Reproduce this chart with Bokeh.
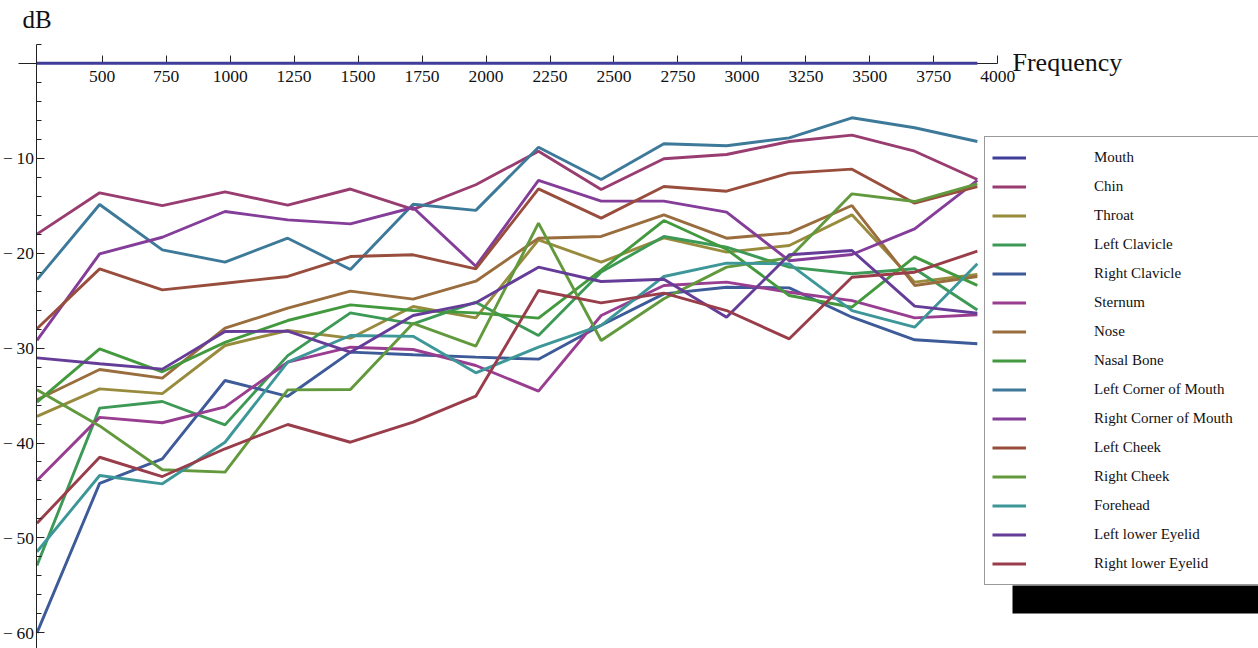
from bokeh.plotting import figure
from bokeh.models import (Range1d, LinearAxis, FixedTicker, Legend, LegendItem,
                          Label, BoxAnnotation)
from bokeh.embed import file_html
from bokeh.resources import INLINE

# ---------------- data ----------------
freqs = [245, 490, 735, 980, 1225, 1470, 1715, 1960, 2205, 2450, 2695, 2940,
         3185, 3430, 3675, 3920]

mouth = [0, 0, 0, 0, 0, 0, 0, 0, 0, 0, 0, 0, 0, 0, 0, 0]
chin = [-18.0, -13.65, -15.0, -13.55, -14.95, -13.25, -15.4, -12.8, -9.27,
        -13.3, -10.07, -9.62, -8.25, -7.58, -9.27, -12.25]
throat = [-37.2, -34.3, -34.8, -29.73, -28.15, -28.96, -25.62, -26.82, -18.6,
          -20.96, -18.4, -19.9, -19.2, -15.97, -23.06, -22.25]
left_clavicle = [-52.9, -36.33, -35.63, -38.09, -30.8, -26.3, -27.45, -25.17,
                 -28.68, -22.0, -18.25, -19.38, -21.48, -22.18, -21.65, -26.0]
right_clavicle = [-60.0, -44.25, -41.67, -33.42, -35.08, -30.43, -30.7, -30.96,
                  -31.17, -27.6, -24.29, -23.59, -23.66, -26.75, -29.13, -29.55]
sternum = [-43.95, -37.3, -37.87, -36.2, -31.49, -29.91, -30.15, -31.84,
           -34.54, -26.57, -23.41, -23.06, -24.12, -25.0, -26.82, -26.5]
nose = [-35.45, -32.26, -33.17, -27.91, -25.8, -24.01, -24.85, -22.96, -18.43,
        -18.25, -15.97, -18.43, -17.87, -14.99, -23.41, -22.46]
nasal_bone = [-35.7, -30.08, -32.5, -29.4, -27.1, -25.45, -26.05, -26.3,
              -26.85, -21.8, -16.57, -19.6, -24.47, -25.7, -20.4, -23.4]
left_corner_mouth = [-22.8, -14.88, -19.66, -20.95, -18.43, -21.73, -14.85,
                     -15.5, -8.85, -12.25, -8.49, -8.7, -7.86, -5.75, -6.8, -8.25]
right_corner_mouth = [-29.2, -20.08, -18.33, -15.62, -16.5, -16.92, -15.2,
                      -21.38, -12.35, -14.53, -14.53, -15.69, -20.8, -20.15,
                      -17.44, -12.35]
left_cheek = [-27.97, -21.66, -23.87, -23.17, -22.46, -20.36, -20.18, -21.66,
              -13.23, -16.32, -12.99, -13.48, -11.58, -11.16, -14.74, -12.99]
right_cheek = [-34.4, -38.2, -42.82, -43.07, -34.4, -34.37, -27.4, -29.8,
               -16.85, -29.2, -24.8, -21.48, -20.5, -13.76, -14.57, -12.7]
forehead = [-51.45, -43.42, -44.3, -39.92, -31.49, -28.68, -28.77, -32.61,
            -29.91, -27.62, -22.46, -21.06, -21.13, -26.05, -27.8, -21.13]
left_lower_eyelid = [-31.03, -31.66, -32.22, -28.26, -28.22, -30.43, -26.57,
                     -25.24, -21.48, -22.99, -22.75, -26.75, -20.18, -19.73,
                     -25.59, -26.33]
right_lower_eyelid = [-48.45, -41.5, -43.53, -40.61, -38.05, -39.92, -37.8,
                      -35.07, -23.94, -25.24, -24.22, -26.05, -29.03, -22.54,
                      -22.01, -19.8]

names = ["Mouth", "Chin", "Throat", "Left Clavicle", "Right Clavicle", "Sternum",
         "Nose", "Nasal Bone", "Left Corner of Mouth", "Right Corner of Mouth",
         "Left Cheek", "Right Cheek", "Forehead", "Left lower Eyelid",
         "Right lower Eyelid"]
series = [mouth, chin, throat, left_clavicle, right_clavicle, sternum, nose,
          nasal_bone, left_corner_mouth, right_corner_mouth, left_cheek,
          right_cheek, forehead, left_lower_eyelid, right_lower_eyelid]
colors = ["#3f3d99", "#993d71", "#998b3d", "#3d9956", "#3d5a99", "#993d90",
          "#996d3d", "#43993d", "#3d7999", "#843d99", "#994e3d", "#62993d",
          "#3d9799", "#653d99", "#993d4b"]

x_ticks = [500, 750, 1000, 1250, 1500, 1750, 2000, 2250, 2500, 2750, 3000,
           3250, 3500, 3750, 4000]
y_ticks = [-60, -50, -40, -30, -20, -10]
y_minor = list(range(-60, 3, 2))

# ---------------- layout helpers (reference pixel -> data) ----------------
W, H = 1258, 648


def fx(px):
    return 500 + (px - 101.7) / 0.25589


def fy(py):
    return (62.7 - py) / 9.495


p = figure(width=W, height=H,
           x_range=Range1d(fx(0), fx(W)),
           y_range=Range1d(fy(H), fy(0)),
           x_axis_type=None, y_axis_type=None,
           toolbar_location=None, output_backend="svg", min_border=0)
p.outline_line_color = None
p.background_fill_color = "white"
p.border_fill_color = "white"

SERIF = "Liberation Serif"

xaxis = LinearAxis(fixed_location=0, bounds=(fx(18), 4000),
                   ticker=FixedTicker(ticks=x_ticks, minor_ticks=[]))
xaxis.axis_line_color = "#222222"
xaxis.axis_line_width = 1
xaxis.major_tick_in = 8
xaxis.major_tick_out = 0
xaxis.major_tick_line_color = "#222222"
xaxis.minor_tick_line_color = None
xaxis.major_label_standoff = 8
xaxis.major_label_text_font = SERIF
xaxis.major_label_text_font_size = "17.5px"
xaxis.major_label_text_color = "#111111"
p.add_layout(xaxis, "below")

yaxis = LinearAxis(fixed_location=freqs[0], bounds=(fy(660), 2),
                   ticker=FixedTicker(ticks=y_ticks, minor_ticks=y_minor))
yaxis.axis_line_color = "#222222"
yaxis.axis_line_width = 1
yaxis.major_tick_in = 8
yaxis.major_tick_out = 0
yaxis.minor_tick_in = 5
yaxis.minor_tick_out = 0
yaxis.major_tick_line_color = "#222222"
yaxis.minor_tick_line_color = "#222222"
yaxis.major_label_standoff = 3
yaxis.major_label_text_font = SERIF
yaxis.major_label_text_font_size = "17.5px"
yaxis.major_label_text_color = "#111111"
yaxis.major_label_overrides = {t: "\u2212\u2009" + str(-t) for t in y_ticks}
p.add_layout(yaxis, "left")

renderers = []
for name, vals, col in zip(names, series, colors):
    r = p.line(freqs, vals, line_color=col, line_width=2.9)
    renderers.append(r)
renderers[0].level = "overlay"

# legend shadow
shadow = BoxAnnotation(left=fx(1012), right=fx(1300), top=fy(585), bottom=fy(613),
                       fill_color="black", fill_alpha=1.0, line_color=None)
p.add_layout(shadow)

legend = Legend(items=[LegendItem(label=n, renderers=[r])
                       for n, r in zip(names, renderers)],
                location=(984, H - 585))
legend.padding = 7
legend.spacing = 2
legend.glyph_height = 27
legend.label_height = 27
legend.glyph_width = 34
legend.label_standoff = 68
legend.label_width = 210
legend.label_text_font = SERIF
legend.label_text_font_size = "15px"
legend.label_text_color = "#111111"
legend.border_line_color = "#333333"
legend.border_line_width = 1.5
legend.background_fill_color = "white"
legend.background_fill_alpha = 1.0
legend.margin = 0
p.add_layout(legend)

p.add_layout(Label(x=fx(22), y=fy(18.5), text="dB", text_font=SERIF,
                   text_font_size="25px", text_color="#111111",
                   text_baseline="alphabetic"))
p.add_layout(Label(x=fx(1012), y=fy(61.5), text="Frequency", text_font=SERIF,
                   text_font_size="26px", text_color="#111111",
                   text_baseline="alphabetic"))

open("out.html", "w").write(file_html(p, INLINE))
